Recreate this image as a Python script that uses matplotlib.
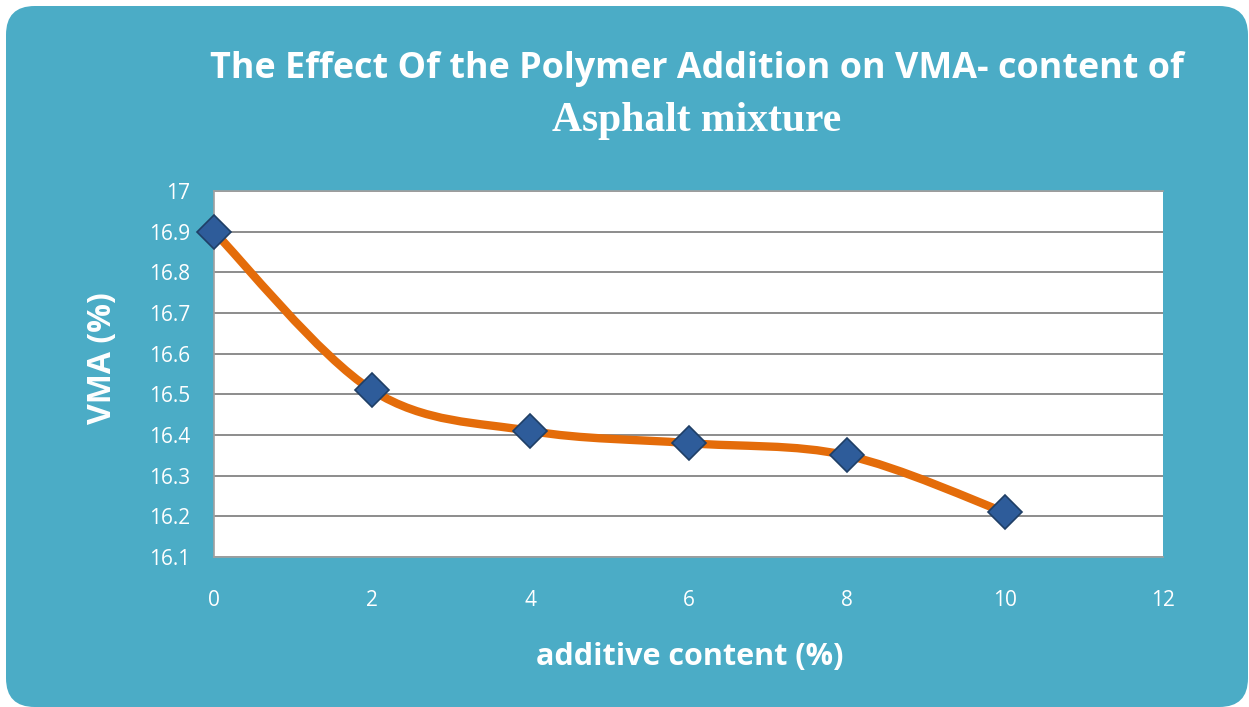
import matplotlib
matplotlib.use('Agg')
import matplotlib.pyplot as plt
import numpy as np
from matplotlib.patches import FancyBboxPatch, PathPatch
from matplotlib.path import Path

# data
additive = [0, 2, 4, 6, 8, 10]
vma = [16.9, 16.51, 16.41, 16.38, 16.35, 16.21]
x_ticks = [0, 2, 4, 6, 8, 10, 12]
y_ticks = [16.1, 16.2, 16.3, 16.4, 16.5, 16.6, 16.7, 16.8, 16.9, 17]
y_tick_labels = ['16.1', '16.2', '16.3', '16.4', '16.5', '16.6', '16.7', '16.8', '16.9', '17']

teal = '#4BACC6'
W, H = 1249, 707

fig = plt.figure(figsize=(W / 100, H / 100), dpi=100)
fig.patch.set_facecolor('white')

# rounded teal background
bg = FancyBboxPatch((6 / W, 0 / H), (1242 / W), (701 / H),
                    boxstyle='round,pad=0,rounding_size=0.023',
                    transform=fig.transFigure, facecolor=teal, edgecolor='none',
                    mutation_aspect=W / H, zorder=-10)
fig.patches.append(bg)

ax = fig.add_axes([214 / W, 1 - 557 / H, (1163 - 214) / W, (557 - 191) / H])
ax.set_zorder(1)
ax.set_facecolor('white')
ax.set_xlim(0, 12)
ax.set_ylim(16.1, 17)
ax.set_xticks(x_ticks)
ax.set_yticks(y_ticks)
ax.set_yticklabels(y_tick_labels)
ax.tick_params(length=0, colors='white', labelsize=15)
ax.tick_params(axis='y', pad=17)
ax.tick_params(axis='x', pad=24)
for lab in ax.get_xticklabels() + ax.get_yticklabels():
    lab.set_fontfamily('Open Sans')
ax.yaxis.grid(True, color='#8c8c8c', linewidth=1.4)
for s in ['left', 'bottom', 'top', 'right']:
    ax.spines[s].set_color('#a0a0a0')
    ax.spines[s].set_linewidth(1.2)
ax.spines['right'].set_visible(False)

# smoothed line (Excel style bezier between the points)
pts = np.column_stack([additive, vma])
n = len(pts)
verts = [tuple(pts[0])]
codes = [Path.MOVETO]
for i in range(n - 1):
    p0 = pts[max(i - 1, 0)]
    p1 = pts[i]
    p2 = pts[i + 1]
    p3 = pts[min(i + 2, n - 1)]
    c1 = p1 + (p2 - p0) / 6.0
    c2 = p2 - (p3 - p1) / 6.0
    verts += [tuple(c1), tuple(c2), tuple(p2)]
    codes += [Path.CURVE4] * 3
ax.add_patch(PathPatch(Path(verts, codes), facecolor='none', edgecolor='#E46C0A',
                       linewidth=6, capstyle='round', zorder=3, clip_on=False))

ax.plot(additive, vma, linestyle='none', marker='D', markersize=17,
        markerfacecolor='#2E5C9A', markeredgecolor='#1F3F66', markeredgewidth=1.2,
        zorder=4, clip_on=False)

fig.text(697 / W, 1 - 69 / H, 'The Effect Of the Polymer Addition on VMA- content of',
         ha='center', va='center', color='white', fontsize=25.8, fontweight='bold',
         family='Open Sans')
fig.text(697 / W, 1 - 121 / H, 'Asphalt mixture', ha='center', va='center',
         color='white', fontsize=30, fontweight='bold', family='Liberation Serif')

fig.text(103 / W, 1 - 358 / H, 'VMA (%)', ha='center', va='center', rotation=90,
         color='white', fontsize=23, fontweight='bold', family='Open Sans')
fig.text(690 / W, 1 - 657 / H, 'additive content (%)', ha='center', va='center',
         color='white', fontsize=22, fontweight='bold', family='Open Sans')

fig.savefig('out.png', dpi=100)
